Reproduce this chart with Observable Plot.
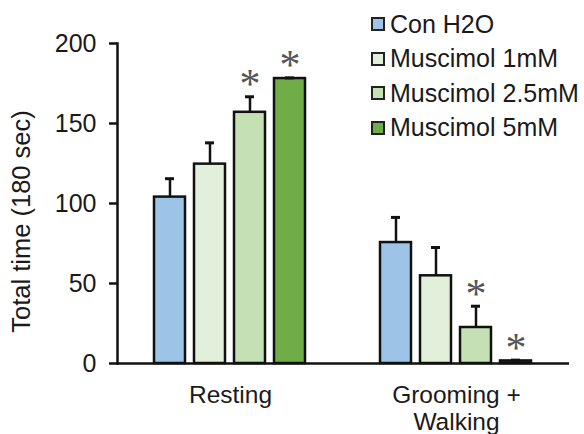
<!DOCTYPE html>
<html>
<head>
<meta charset="utf-8">
<script src="https://cdn.jsdelivr.net/npm/d3@7"></script>
<script src="https://cdn.jsdelivr.net/npm/@observablehq/plot@0.6"></script>
<style>
  html, body { margin: 0; padding: 0; background: #fff; }
  #wrap { position: relative; width: 584px; height: 434px; font-family: "Liberation Sans", Arial, sans-serif; color: #1a1a1a; }
  #legend { position: absolute; left: 371px; top: 7px; }
  .row { display: flex; align-items: center; height: 34.5px; font-size: 25px; white-space: nowrap; }
  .sw { width: 14px; height: 14px; box-sizing: border-box; border: 2px solid #222; margin-right: 5px; }
</style>
</head>
<body>
<div id="wrap"><div id="legend"></div></div>
<script>
const groups = ["Resting", "Grooming + Walking"];
const series = ["Con H2O", "Muscimol 1mM", "Muscimol 2.5mM", "Muscimol 5mM"];
const colors = ["#9DC3E6", "#E2EFDA", "#C5E0B4", "#70AD47"];
const restingMean = [104, 124.6, 157, 178.1];
const restingErr = [11.5, 13.3, 9.7, 0.4];
const groomingMean = [75.6, 54.8, 22.5, 1.6];
const groomingErr = [15.7, 17.7, 13.3, 0.5];
const restingSig = [false, false, true, true];
const groomingSig = [false, false, true, true];
const yTicks = [0, 50, 100, 150, 200];
const yLabel = "Total time (180 sec)";

const data = [];
series.forEach((s, i) => data.push({group: groups[0], series: s, value: restingMean[i], err: restingErr[i], sig: restingSig[i]}));
series.forEach((s, i) => data.push({group: groups[1], series: s, value: groomingMean[i], err: groomingErr[i], sig: groomingSig[i]}));

const font = "'Liberation Sans', Arial, sans-serif";
const chart = Plot.plot({
  width: 584,
  height: 434,
  marginLeft: 116,
  marginRight: 15,
  marginTop: 43,
  marginBottom: 71,
  style: {fontFamily: font, color: "#1a1a1a", background: "transparent"},
  fx: {domain: groups, padding: 0, axis: null, label: null},
  x: {domain: series, paddingInner: 9 / 41, paddingOuter: 0.87, axis: null, label: null},
  y: {domain: [0, 200], axis: null, label: null},
  color: {domain: series, range: colors},
  marks: [
    Plot.barY(data, {fx: "group", x: "series", y: "value", fill: "series", stroke: "#111", strokeWidth: 2.5}),
    Plot.ruleX(data, {fx: "group", x: "series", y1: "value", y2: d => d.value + d.err, stroke: "#111", strokeWidth: 2.5}),
    Plot.tickY(data, {fx: "group", x: "series", y: d => d.value + d.err, stroke: "#111", strokeWidth: 3, insetLeft: 11, insetRight: 11}),
    Plot.text(data.filter(d => d.sig), {fx: "group", x: "series", y: d => d.value + d.err, text: () => "*", fontFamily: "'Liberation Serif', serif", fontSize: 42, fill: "#555", dy: -12, lineAnchor: "middle"}),
    Plot.ruleY([0], {stroke: "#111", strokeWidth: 2.5}),
    Plot.frame({anchor: "left", facetAnchor: "left", stroke: "#111", strokeWidth: 2.5}),
    Plot.axisY({ticks: yTicks, tickSize: 8, tickPadding: 13, fontSize: 25, strokeWidth: 2.5, stroke: "#111", label: null}),
    Plot.text([yLabel], {frameAnchor: "left", facetAnchor: "left", text: d => d, rotate: -90, textAnchor: "middle", lineAnchor: "top", fontSize: 25.5, dx: -106, dy: 18, fill: "#1a1a1a"}),
    Plot.axisFx({anchor: "bottom", tickSize: 0, tickPadding: 20, fontSize: 24.5, lineHeight: 1.1, label: null, tickFormat: d => d.replace(" + ", " +\n")})
  ]
});
document.getElementById("wrap").prepend(chart);

const legend = document.getElementById("legend");
series.forEach((s, i) => {
  const row = document.createElement("div");
  row.className = "row";
  const sw = document.createElement("div");
  sw.className = "sw";
  sw.style.background = colors[i];
  const t = document.createElement("span");
  t.textContent = s;
  row.append(sw, t);
  legend.append(row);
});
</script>
</body>
</html>
